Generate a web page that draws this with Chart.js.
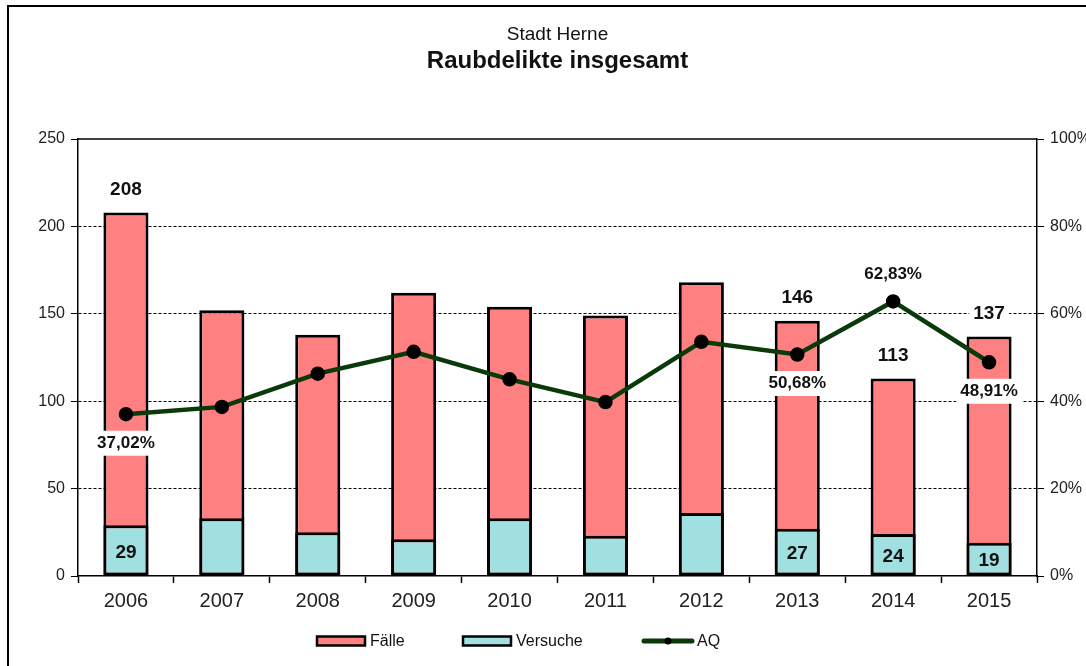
<!DOCTYPE html>
<html>
<head>
<meta charset="utf-8">
<script src="https://cdn.jsdelivr.net/npm/chart.js@4"></script>
<style>
  html, body { margin: 0; padding: 0; background: #fff; }
  .frame { position: absolute; left: 7px; top: 5px; width: 1200px; height: 800px; border-left: 2px solid #000; border-top: 2px solid #000; }
  .wrap { position: absolute; left: 0; top: 0; width: 1086px; height: 666px; }
</style>
</head>
<body>
<div class="frame"></div>
<div class="wrap"><canvas id="myChart" width="1086" height="666"></canvas></div>
<script>
const years = ['2006', '2007', '2008', '2009', '2010', '2011', '2012', '2013', '2014', '2015']
const faelle = [208, 152, 138, 162, 154, 149, 168, 146, 113, 137]
const versuche = [29, 33, 25, 21, 33, 23, 36, 27, 24, 19]
const aq = [37.02, 38.7, 46.3, 51.3, 45.0, 39.8, 53.6, 50.68, 62.83, 48.91]
const leftTicks = [0, 50, 100, 150, 200, 250]
const rightTicks = [0, 20, 40, 60, 80, 100]

// which points get a value label
const faelleShown = [0, 7, 8, 9]
const versucheShown = [0, 7, 8, 9]
const aqShown = [0, 7, 8, 9]
const aqAbove = [8]

const red = '#ff8080'
const cyan = '#a0e0e0'
const green = '#0a3a0a'
const font = "'Liberation Sans', Arial, sans-serif"
Chart.defaults.font.family = font
Chart.defaults.color = '#222'

const pct = v => v.toFixed(2).replace('.', ',') + '%'

// white boxed labels like the excel data labels
const labelPlugin = {
    id: 'labels',
    afterDatasetsDraw(chart) {
        const ctx = chart.ctx
        const put = (text, x, y, size, bg) => {
            ctx.font = `bold ${size}px ${font}`
            ctx.textAlign = 'center'
            ctx.textBaseline = 'middle'
            if (bg) {
                const w = ctx.measureText(text).width
                ctx.fillStyle = '#fff'
                ctx.fillRect(x - w / 2 - 4, y - size / 2 - 4, w + 8, size + 8)
            }
            ctx.fillStyle = '#111'
            ctx.fillText(text, x, y)
        }
        ctx.save()
        const m0 = chart.getDatasetMeta(0)
        faelleShown.forEach(i => {
            const el = m0.data[i]
            put(String(faelle[i]), el.x, el.y - 23, 19, true)
        })
        const m1 = chart.getDatasetMeta(1)
        versucheShown.forEach(i => {
            const el = m1.data[i]
            put(String(versuche[i]), el.x, (el.y + el.base) / 2 + 2, 19, false)
        })
        const m2 = chart.getDatasetMeta(2)
        aqShown.forEach(i => {
            const el = m2.data[i]
            const dy = aqAbove.includes(i) ? -27 : 29
            put(pct(aq[i]), el.x, el.y + dy, 17, true)
        })
        ctx.restore()
    }
}

const framePlugin = {
    id: 'frame',
    beforeDatasetsDraw(chart) {
        const { ctx, chartArea: a } = chart
        ctx.save()
        ctx.strokeStyle = '#000'
        ctx.lineWidth = 1.5
        ctx.beginPath()
        ctx.moveTo(a.left, a.top)
        ctx.lineTo(a.right, a.top)
        ctx.stroke()
        ctx.restore()
    },
    afterDraw(chart) {
        const { ctx, chartArea: a } = chart
        const cx = (a.left + a.right) / 2
        ctx.save()
        ctx.fillStyle = '#111'
        ctx.textAlign = 'center'
        ctx.textBaseline = 'alphabetic'
        ctx.font = `19px ${font}`
        ctx.fillText('Stadt Herne', cx, 40)
        ctx.font = `bold 24px ${font}`
        ctx.fillText('Raubdelikte insgesamt', cx, 68)

        // legend
        const ly = 641
        ctx.font = `16px ${font}`
        ctx.textAlign = 'left'
        ctx.textBaseline = 'middle'
        const box = (x, col, text) => {
            ctx.fillStyle = col
            ctx.fillRect(x, ly - 4.5, 48, 9)
            ctx.strokeStyle = '#000'
            ctx.lineWidth = 2.5
            ctx.strokeRect(x, ly - 4.5, 48, 9)
            ctx.fillStyle = '#111'
            ctx.fillText(text, x + 53, ly + 1)
        }
        box(317, red, 'Fälle')
        box(463, cyan, 'Versuche')
        ctx.strokeStyle = green
        ctx.lineWidth = 5
        ctx.lineCap = 'round'
        ctx.beginPath()
        ctx.moveTo(644, ly)
        ctx.lineTo(692, ly)
        ctx.stroke()
        ctx.fillStyle = '#000'
        ctx.beginPath()
        ctx.arc(668, ly, 3.5, 0, Math.PI * 2)
        ctx.fill()
        ctx.fillStyle = '#111'
        ctx.fillText('AQ', 697, ly + 1)
        ctx.restore()
    }
}

const data1 = {
    labels: years,
    datasets: [
        {
            type: 'bar',
            label: 'Fälle',
            data: faelle,
            backgroundColor: red,
            borderColor: '#000',
            borderWidth: 3,
            borderSkipped: false,
            grouped: false,
            barPercentage: 0.47,
            categoryPercentage: 1,
            yAxisID: 'y',
            order: 2
        },
        {
            type: 'bar',
            label: 'Versuche',
            data: versuche,
            backgroundColor: cyan,
            borderColor: '#000',
            borderWidth: 3,
            borderSkipped: false,
            grouped: false,
            barPercentage: 0.47,
            categoryPercentage: 1,
            yAxisID: 'y',
            order: 1
        },
        {
            type: 'line',
            label: 'AQ',
            data: aq,
            borderColor: green,
            borderWidth: 4.5,
            pointRadius: 5,
            pointBackgroundColor: '#000',
            pointBorderColor: '#000',
            tension: 0,
            yAxisID: 'y1',
            order: 0
        }
    ]
}

const config = {
    data: data1,
    plugins: [framePlugin, labelPlugin],
    options: {
        responsive: false,
        animation: false,
        layout: { padding: { top: 139, left: 0, right: 0, bottom: 0 } },
        plugins: {
            legend: { display: false },
            tooltip: { enabled: false },
            title: { display: false }
        },
        scales: {
            x: {
                type: 'category',
                offset: true,
                grid: { offset: true, drawOnChartArea: false, tickLength: 7, tickColor: '#000', tickWidth: 1.5 },
                border: { color: '#000', width: 1.5 },
                ticks: { font: { size: 20 }, color: '#222', padding: 6 },
                afterFit: s => { s.height = 90 }
            },
            y: {
                position: 'left',
                min: 0,
                max: 250,
                afterBuildTicks: s => { s.ticks = leftTicks.map(v => ({ value: v })) },
                grid: {
                    color: c => (c.tick && (c.tick.value === 0 || c.tick.value === 250)) ? 'rgba(0,0,0,0)' : '#000',
                    lineWidth: 1,
                    tickColor: '#000',
                    tickLength: 7
                },
                border: { color: '#000', width: 1.5, dash: [3, 2] },
                ticks: { font: { size: 16 }, color: '#222', padding: 6 },
                afterFit: s => { s.width = 78 }
            },
            y1: {
                position: 'right',
                min: 0,
                max: 100,
                afterBuildTicks: s => { s.ticks = rightTicks.map(v => ({ value: v })) },
                grid: { drawOnChartArea: false, tickColor: '#000', tickLength: 7 },
                border: { color: '#000', width: 1.5 },
                ticks: { font: { size: 16 }, color: '#222', padding: 6, callback: v => v + '%' },
                afterFit: s => { s.width = 49 }
            }
        }
    }
}

let myChart = new Chart(document.getElementById('myChart'), config)
</script>
</body>
</html>
